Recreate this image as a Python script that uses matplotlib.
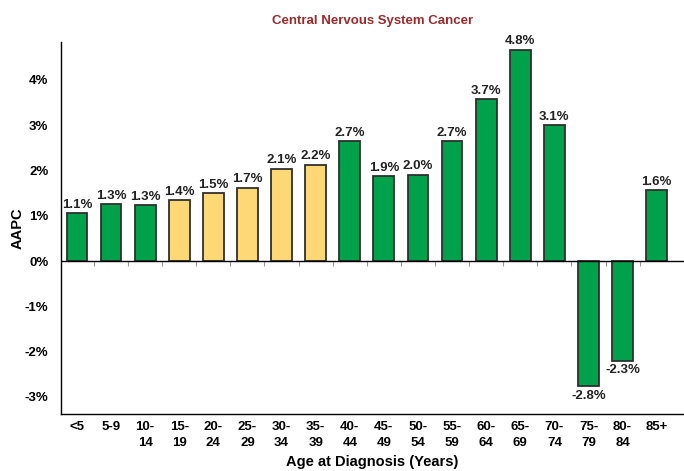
import matplotlib.pyplot as plt
from matplotlib import font_manager
import numpy as np

age_groups = ['<5', '5-9', '10-\n14', '15-\n19', '20-\n24', '25-\n29', '30-\n34', '35-\n39',
              '40-\n44', '45-\n49', '50-\n54', '55-\n59', '60-\n64', '65-\n69', '70-\n74',
              '75-\n79', '80-\n84', '85+']
aapc = [1.06, 1.26, 1.24, 1.35, 1.50, 1.62, 2.04, 2.13, 2.65, 1.87, 1.91, 2.65, 3.57, 4.67,
        3.00, -2.77, -2.20, 1.57]
value_labels = ['1.1%', '1.3%', '1.3%', '1.4%', '1.5%', '1.7%', '2.1%', '2.2%', '2.7%', '1.9%',
                '2.0%', '2.7%', '3.7%', '4.8%', '3.1%', '-2.8%', '-2.3%', '1.6%']
highlight = [False, False, False, True, True, True, True, True, False, False, False, False,
             False, False, False, False, False, False]
yticks = [-3, -2, -1, 0, 1, 2, 3, 4]

names = {f.name for f in font_manager.fontManager.ttflist}
fam = 'Liberation Sans Narrow' if 'Liberation Sans Narrow' in names else 'Liberation Sans'
plt.rcParams['font.family'] = [fam, 'DejaVu Sans']

green = '#00a14b'
yellow = '#fdd874'
edge = '#2f2f2f'

fig = plt.figure(figsize=(6.84, 4.71), dpi=100)
ax = fig.add_axes([0.089, 0.121, 0.911, 0.79])

x = np.arange(len(aapc))
colors = [yellow if h else green for h in highlight]
bars = ax.bar(x, aapc, width=0.61, color=colors, edgecolor=edge, linewidth=1.3, zorder=3)

for xi, v, lab in zip(x, aapc, value_labels):
    if v >= 0:
        ax.text(xi, v + 0.05, lab, ha='center', va='bottom', fontsize=9.5,
                fontweight='bold', color='#222222')
    else:
        ax.text(xi, v - 0.08, lab, ha='center', va='top', fontsize=9.5,
                fontweight='bold', color='#222222')

# zero line with small ticks between bars
ax.axhline(0, color='black', linewidth=1.0, zorder=4)
ax.vlines(x[:-1] + 0.5, -0.1, 0, color='#999999', linewidth=0.8, zorder=2)

ax.set_xlim(-0.47, 17.8)
ax.set_ylim(-3.38, 4.84)
ax.set_yticks(yticks)
ax.set_yticklabels(['%d%%' % t for t in yticks], fontsize=9.5, fontweight='bold')
ax.tick_params(axis='y', length=0, pad=9)
ax.set_xticks(x)
ax.set_xticklabels(age_groups, fontsize=9.5, fontweight='bold', va='top', linespacing=1.45)
ax.tick_params(axis='x', length=0, pad=5)

for s in ['top', 'right']:
    ax.spines[s].set_visible(False)
ax.spines['left'].set_linewidth(1.0)
ax.spines['bottom'].set_linewidth(1.0)

ax.set_ylabel('AAPC', fontsize=10.5, fontweight='bold')
ax.yaxis.set_label_coords(-0.069, 0.5)
ax.set_xlabel('Age at Diagnosis (Years)', fontsize=10.5, fontweight='bold')
ax.xaxis.set_label_coords(0.5, -0.129)
ax.xaxis.label.set_va('center')
ax.yaxis.label.set_va('center')
ax.set_title('Central Nervous System Cancer', fontsize=9.5, fontweight='bold',
             color='#9b2a2a', pad=13)

fig.savefig('out.png', dpi=100)
